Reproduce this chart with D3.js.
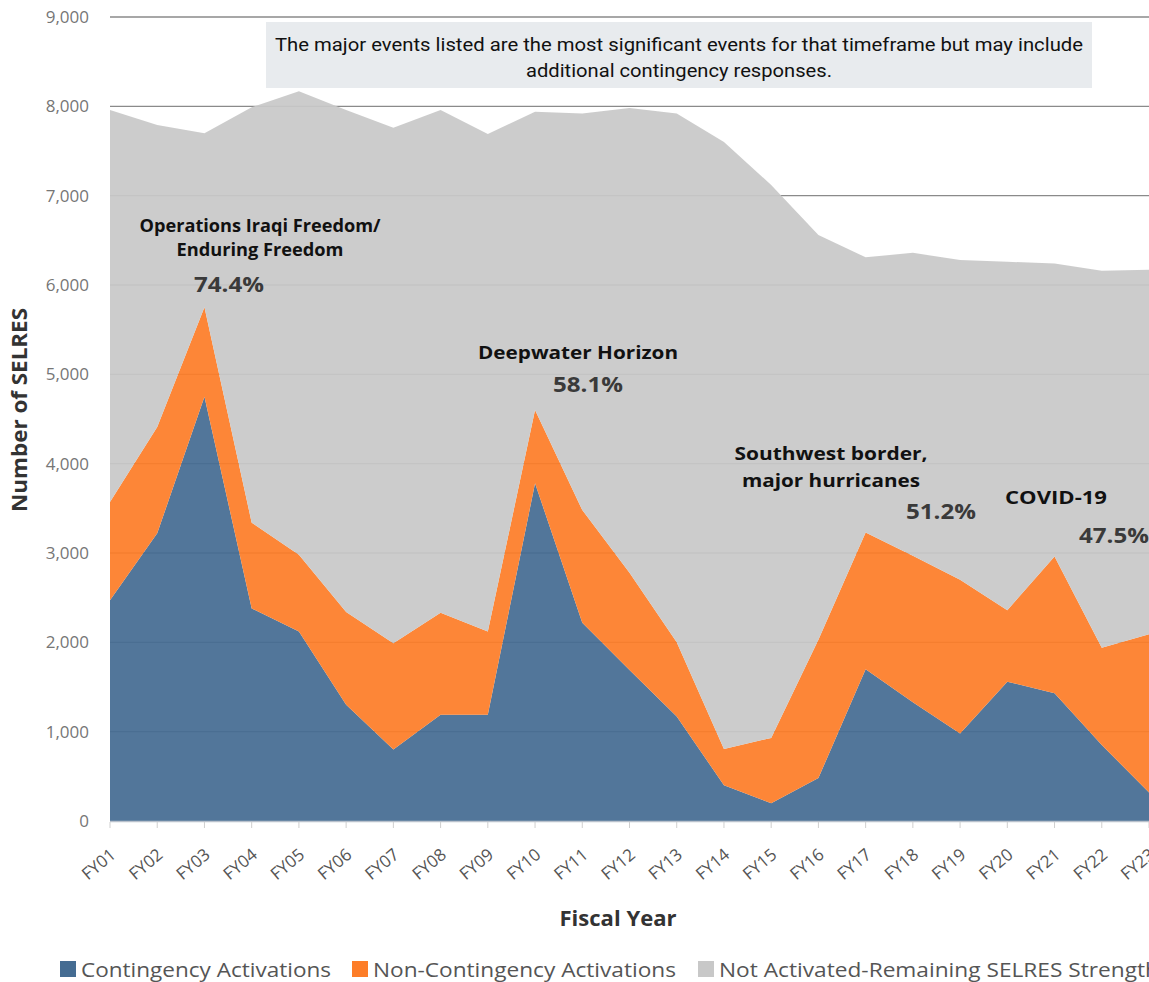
<!DOCTYPE html>
<html><head><meta charset="utf-8">
<script src="https://cdn.jsdelivr.net/npm/d3@7"></script>
<style>body{margin:0;background:#fff;overflow:hidden}svg{display:block}</style>
</head><body>
<svg id="c" width="1149" height="982"></svg>
<script>
const years = ["FY01","FY02","FY03","FY04","FY05","FY06","FY07","FY08","FY09","FY10","FY11","FY12","FY13","FY14","FY15","FY16","FY17","FY18","FY19","FY20","FY21","FY22","FY23"];
const contingency = [2470,3220,4750,2380,2120,1300,800,1190,1190,3780,2220,1690,1170,400,200,480,1700,1330,980,1560,1430,850,320];
const nonContingency = [1100,1190,1000,960,860,1040,1190,1140,930,820,1260,1090,830,406,730,1550,1530,1640,1720,800,1530,1090,1770];
const notActivated = [4390,3380,1950,4650,5190,5620,5770,5630,5570,3340,4440,5200,5920,6794,6190,4530,3080,3390,3580,3900,3280,4220,4080];
const seriesNames = ["Contingency Activations","Non-Contingency Activations","Not Activated-Remaining SELRES Strength"];
const seriesColors = ["#456c92","#fd7d28","#c8c8c8"];
const yTicks = [0,1000,2000,3000,4000,5000,6000,7000,8000,9000];
const annotations = [
  {lines:["Operations Iraqi Freedom/","Enduring Freedom"], x:260, y:[232,256], w:[241,167], pct:"74.4%", px:229, py:292},
  {lines:["Deepwater Horizon"], x:578, y:[359], w:[200], pct:"58.1%", px:588, py:392},
  {lines:["Southwest border,","major hurricanes"], x:831, y:[460,487], w:[193,178], pct:"51.2%", px:941, py:519},
  {lines:["COVID-19"], x:1056, y:[504], w:[102], pct:"47.5%", px:1114, py:543}
];
const noteLines = ["The major events listed are the most significant events for that timeframe but may include","additional contingency responses."];

const svg = d3.select("#c");
const x = d3.scalePoint().domain(years).range([110,1149]);
const y = d3.scaleLinear().domain([0,9000]).range([821,17]);

// gridlines
svg.append("g").selectAll("line").data(yTicks.filter(d=>d>0)).join("line")
  .attr("x1",110).attr("x2",1149).attr("y1",d=>y(d)).attr("y2",d=>y(d))
  .attr("stroke","#8a8a8a").attr("stroke-width",1.3);

// stacked data
const rows = years.map((yr,i)=>({yr, a:contingency[i], b:nonContingency[i], c:notActivated[i]}));
const stack = d3.stack().keys(["a","b","c"])(rows);
const area = d3.area().x(d=>x(d.data.yr)).y0(d=>y(d[0])).y1(d=>y(d[1]));
svg.append("g").selectAll("path").data(stack).join("path")
  .attr("d",area).attr("fill",(d,i)=>seriesColors[i]).attr("fill-opacity",0.93);

// axis line & ticks
svg.append("line").attr("x1",110).attr("x2",1149).attr("y1",y(0)+0.5).attr("y2",y(0)+0.5).attr("stroke","#b9c1cc").attr("stroke-width",1.5);
svg.append("g").selectAll("line").data(years).join("line")
  .attr("x1",d=>x(d)).attr("x2",d=>x(d)).attr("y1",y(0)+1).attr("y2",y(0)+7)
  .attr("stroke","#cfcfcf").attr("stroke-width",1);

// y tick labels
svg.append("g").selectAll("text").data(yTicks).join("text")
  .attr("x",89).attr("y",d=>y(d)+6).attr("text-anchor","end")
  .attr("font-family","Open Sans, sans-serif").attr("font-size",17).attr("fill","#767676")
  .text(d=>d3.format(",")(d));

// x tick labels
svg.append("g").selectAll("text").data(years).join("text")
  .attr("transform",d=>`translate(${x(d)+3},${y(0)+31}) rotate(-40)`)
  .attr("text-anchor","end").attr("dy","0.35em")
  .attr("font-family","Open Sans, sans-serif").attr("font-size",17).attr("fill","#555")
  .text(d=>d);

// axis titles
svg.append("text").attr("transform","translate(27,410) rotate(-90)").attr("text-anchor","middle")
  .attr("font-family","Open Sans, sans-serif").attr("font-weight",700).attr("font-size",21).attr("fill","#333")
  .attr("textLength",204).attr("lengthAdjust","spacingAndGlyphs")
  .text("Number of SELRES");
svg.append("text").attr("x",618).attr("y",926).attr("text-anchor","middle")
  .attr("font-family","Open Sans, sans-serif").attr("font-weight",700).attr("font-size",21).attr("fill","#333")
  .attr("textLength",117).attr("lengthAdjust","spacingAndGlyphs")
  .text("Fiscal Year");

// note box
svg.append("rect").attr("x",266).attr("y",22).attr("width",826).attr("height",66).attr("fill","#e8ebee");
svg.append("g").selectAll("text").data(noteLines).join("text")
  .attr("x",679).attr("y",(d,i)=>51+i*26).attr("text-anchor","middle")
  .attr("font-family","Roboto, sans-serif").attr("font-size",18).attr("fill","#111")
  .attr("textLength",(d,i)=>i===0?808:306).attr("lengthAdjust","spacingAndGlyphs")
  .text(d=>d);

// annotations
const ag = svg.append("g");
annotations.forEach(a=>{
  a.lines.forEach((l,i)=>{
    ag.append("text").attr("x",a.x).attr("y",a.y[i]).attr("text-anchor","middle")
      .attr("font-family","Open Sans, sans-serif").attr("font-weight",700).attr("font-size",18).attr("fill","#111")
      .attr("textLength",a.w[i]).attr("lengthAdjust","spacingAndGlyphs")
      .text(l);
  });
  ag.append("text").attr("x",a.px).attr("y",a.py).attr("text-anchor","middle")
    .attr("font-family","Open Sans, sans-serif").attr("font-weight",700).attr("font-size",21).attr("fill","#3a3a3a")
    .attr("textLength",70).attr("lengthAdjust","spacingAndGlyphs")
    .text(a.pct);
});

// legend
const legX = [60,352,698];
const legW = [250,303,440];
const lg = svg.append("g");
seriesNames.forEach((n,i)=>{
  lg.append("rect").attr("x",legX[i]).attr("y",961).attr("width",16).attr("height",16).attr("fill",seriesColors[i]);
  lg.append("text").attr("x",legX[i]+21).attr("y",977)
    .attr("font-family","Open Sans, sans-serif").attr("font-size",20).attr("fill","#555")
    .attr("textLength",legW[i]).attr("lengthAdjust","spacingAndGlyphs")
    .text(n);
});
</script>
</body></html>
